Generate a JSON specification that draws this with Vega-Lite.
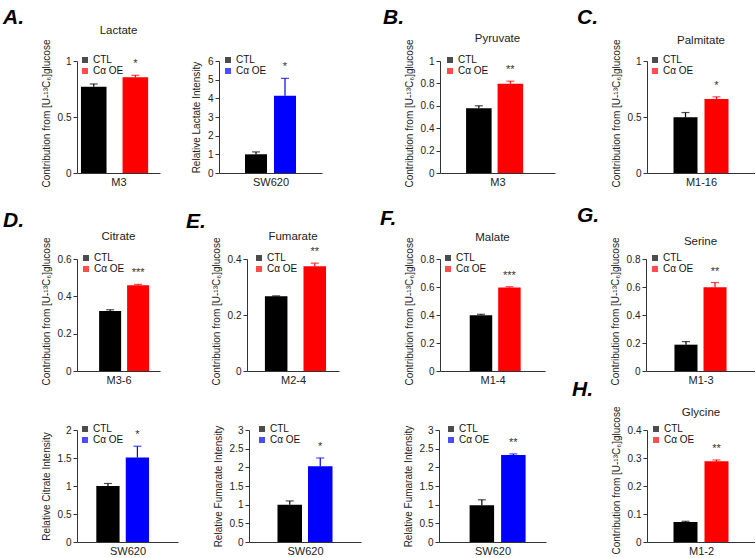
{
"$schema": "https://vega.github.io/schema/vega-lite/v6.json",
"padding": {"left": 3, "top": 6, "right": 0, "bottom": 0},
"background": "white",
"data": {"values": [
{"panel":"A1","cond":"CTL","value":0.77,"upper":0.795,"sig":""},
{"panel":"A1","cond":"Cα OE","value":0.855,"upper":0.872,"sig":"*"},
{"panel":"A2","cond":"CTL","value":1.0,"upper":1.13,"sig":""},
{"panel":"A2","cond":"Cα OE","value":4.14,"upper":5.07,"sig":"*"},
{"panel":"B","cond":"CTL","value":0.578,"upper":0.6,"sig":""},
{"panel":"B","cond":"Cα OE","value":0.797,"upper":0.82,"sig":"**"},
{"panel":"C","cond":"CTL","value":0.497,"upper":0.54,"sig":""},
{"panel":"C","cond":"Cα OE","value":0.66,"upper":0.68,"sig":"*"},
{"panel":"D","cond":"CTL","value":0.322,"upper":0.328,"sig":""},
{"panel":"D","cond":"Cα OE","value":0.46,"upper":0.464,"sig":"***"},
{"panel":"E","cond":"CTL","value":0.267,"upper":0.268,"sig":""},
{"panel":"E","cond":"Cα OE","value":0.374,"upper":0.385,"sig":"**"},
{"panel":"F","cond":"CTL","value":0.399,"upper":0.405,"sig":""},
{"panel":"F","cond":"Cα OE","value":0.596,"upper":0.602,"sig":"***"},
{"panel":"G","cond":"CTL","value":0.188,"upper":0.21,"sig":""},
{"panel":"G","cond":"Cα OE","value":0.598,"upper":0.632,"sig":"**"},
{"panel":"D2","cond":"CTL","value":1.0,"upper":1.045,"sig":""},
{"panel":"D2","cond":"Cα OE","value":1.51,"upper":1.71,"sig":"*"},
{"panel":"E2","cond":"CTL","value":1.0,"upper":1.1,"sig":""},
{"panel":"E2","cond":"Cα OE","value":2.03,"upper":2.25,"sig":"*"},
{"panel":"F2","cond":"CTL","value":0.985,"upper":1.13,"sig":""},
{"panel":"F2","cond":"Cα OE","value":2.33,"upper":2.36,"sig":"**"},
{"panel":"H","cond":"CTL","value":0.071,"upper":0.074,"sig":""},
{"panel":"H","cond":"Cα OE","value":0.288,"upper":0.293,"sig":"**"}
]},
"spacing": 17,
"resolve": {"scale": {"color": "independent"}, "legend": {"color": "independent"}},
"vconcat": [
{
"spacing": 61,
"resolve": {"scale": {"color": "independent"}, "legend": {"color": "independent"}},
"hconcat": [
{
"title": {"text":"A.","fontSize":21,"fontWeight":"bold","fontStyle":"italic","color":"#000","anchor":"start","frame":"group","dx":-74,"offset":-3},
"spacing": 31,
"resolve": {"scale": {"color": "independent"}, "legend": {"color": "independent"}},
"hconcat": [
{
"width": 83, "height": 112,
"title": {"text": "Lactate", "offset": 3},
"transform": [{"filter": "datum.panel === 'A1'"}],
"encoding": {
"x": {"field":"cond","type":"nominal","sort":["CTL","Cα OE"],"scale":{"paddingInner":0.385,"paddingOuter":0.19,"align":0.25},"axis":{"title":"M3"}},
"color": {"field":"cond","type":"nominal","scale":{"domain":["CTL","Cα OE"],"range":["#000000","#ff0000"]},"legend":{"title":null,"orient":"none","legendX":3,"legendY":-6}}
},
"layer": [
{"mark":{"type":"bar"},"encoding":{"y":{"field":"value","type":"quantitative","scale":{"domain":[0,1],"nice":false},"axis":{"values":[0,0.5,1],"format":"~g","titleY":52,"title":"Contribution from [U-¹³C₆]glucose"}}}},
{"mark":{"type":"rule","strokeWidth":1.2},"encoding":{"y":{"field":"value","type":"quantitative"},"y2":{"field":"upper"}}},
{"mark":{"type":"tick","thickness":1.2,"size":8},"encoding":{"y":{"field":"upper","type":"quantitative"}}},
{"mark":{"type":"text","baseline":"bottom","dy":-6,"fontSize":11},"encoding":{"y":{"field":"upper","type":"quantitative"},"text":{"field":"sig"},"color":{"value":"#333"}}}
]
},
{
"width": 103, "height": 112,
"transform": [{"filter": "datum.panel === 'A2'"}],
"encoding": {
"x": {"field":"cond","type":"nominal","sort":["CTL","Cα OE"],"scale":{"paddingInner":0.241,"paddingOuter":0.897},"axis":{"title":"SW620"}},
"color": {"field":"cond","type":"nominal","scale":{"domain":["CTL","Cα OE"],"range":["#000000","#0000ff"]},"legend":{"title":null,"orient":"none","legendX":4,"legendY":-6}}
},
"layer": [
{"mark":{"type":"bar"},"encoding":{"y":{"field":"value","type":"quantitative","scale":{"domain":[0,6],"nice":false},"axis":{"values":[0,1,2,3,4,5,6],"format":"~g","title":"Relative Lactate Intensity"}}}},
{"mark":{"type":"rule","strokeWidth":1.2},"encoding":{"y":{"field":"value","type":"quantitative"},"y2":{"field":"upper"}}},
{"mark":{"type":"tick","thickness":1.2,"size":8},"encoding":{"y":{"field":"upper","type":"quantitative"}}},
{"mark":{"type":"text","baseline":"bottom","dy":-6,"fontSize":11},"encoding":{"y":{"field":"upper","type":"quantitative"},"text":{"field":"sig"},"color":{"value":"#333"}}}
]
}
]
},
{
"spacing": 22,
"resolve": {"scale": {"color": "independent"}, "legend": {"color": "independent"}},
"hconcat": [
{
"title": {"text":"B.","fontSize":21,"fontWeight":"bold","fontStyle":"italic","color":"#000","anchor":"start","frame":"group","dx":-57,"offset":5},
"vconcat": [
{
"width": 115, "height": 112,
"title": {"text": "Pyruvate", "offset": -5},
"transform": [{"filter": "datum.panel === 'B'"}],
"encoding": {
"x": {"field":"cond","type":"nominal","sort":["CTL","Cα OE"],"scale":{"paddingInner":0.19,"paddingOuter":0.92,"align":0.45},"axis":{"title":"M3"}},
"color": {"field":"cond","type":"nominal","scale":{"domain":["CTL","Cα OE"],"range":["#000000","#ff0000"]},"legend":{"title":null,"orient":"none","legendX":5,"legendY":-6}}
},
"layer": [
{"mark":{"type":"bar"},"encoding":{"y":{"field":"value","type":"quantitative","scale":{"domain":[0,1],"nice":false},"axis":{"values":[0,0.2,0.4,0.6,0.8,1],"format":"~g","titleY":52,"title":"Contribution from [U-¹³C₆]glucose"}}}},
{"mark":{"type":"rule","strokeWidth":1.2},"encoding":{"y":{"field":"value","type":"quantitative"},"y2":{"field":"upper"}}},
{"mark":{"type":"tick","thickness":1.2,"size":8},"encoding":{"y":{"field":"upper","type":"quantitative"}}},
{"mark":{"type":"text","baseline":"bottom","dy":-6,"fontSize":11},"encoding":{"y":{"field":"upper","type":"quantitative"},"text":{"field":"sig"},"color":{"value":"#333"}}}
]
}
]
},
{
"title": {"text":"C.","fontSize":21,"fontWeight":"bold","fontStyle":"italic","color":"#000","anchor":"start","frame":"group","dx":-70,"offset":7},
"vconcat": [
{
"width": 108, "height": 112,
"title": {"text": "Palmitate", "offset": -7},
"transform": [{"filter": "datum.panel === 'C'"}],
"encoding": {
"x": {"field":"cond","type":"nominal","sort":["CTL","Cα OE"],"scale":{"paddingInner":0.226,"paddingOuter":0.855},"axis":{"title":"M1-16"}},
"color": {"field":"cond","type":"nominal","scale":{"domain":["CTL","Cα OE"],"range":["#000000","#ff0000"]},"legend":{"title":null,"orient":"none","legendX":3,"legendY":-6}}
},
"layer": [
{"mark":{"type":"bar"},"encoding":{"y":{"field":"value","type":"quantitative","scale":{"domain":[0,1],"nice":false},"axis":{"values":[0,0.5,1],"format":"~g","titleY":52,"title":"Contribution from [U-¹³C₆]glucose"}}}},
{"mark":{"type":"rule","strokeWidth":1.2},"encoding":{"y":{"field":"value","type":"quantitative"},"y2":{"field":"upper"}}},
{"mark":{"type":"tick","thickness":1.2,"size":8},"encoding":{"y":{"field":"upper","type":"quantitative"}}},
{"mark":{"type":"text","baseline":"bottom","dy":-6,"fontSize":11},"encoding":{"y":{"field":"upper","type":"quantitative"},"text":{"field":"sig"},"color":{"value":"#333"}}}
]
}
]
}
]
}
]
},
{
"spacing": -6,
"resolve": {"scale": {"color": "independent"}, "legend": {"color": "independent"}},
"vconcat": [
{
"spacing": 26,
"resolve": {"scale": {"color": "independent"}, "legend": {"color": "independent"}},
"hconcat": [
{
"title": {"text":"D.","fontSize":21,"fontWeight":"bold","fontStyle":"italic","color":"#000","anchor":"start","frame":"group","dx":-74,"offset":0},
"vconcat": [
{
"width": 83, "height": 112,
"title": {"text": "Citrate", "offset": -5},
"transform": [{"filter": "datum.panel === 'D'"}],
"encoding": {
"x": {"field":"cond","type":"nominal","sort":["CTL","Cα OE"],"scale":{"paddingInner":0.214,"paddingOuter":0.59,"align":0.67},"axis":{"title":"M3-6"}},
"color": {"field":"cond","type":"nominal","scale":{"domain":["CTL","Cα OE"],"range":["#000000","#ff0000"]},"legend":{"title":null,"orient":"none","legendX":4,"legendY":-6}}
},
"layer": [
{"mark":{"type":"bar"},"encoding":{"y":{"field":"value","type":"quantitative","scale":{"domain":[0,0.6],"nice":false},"axis":{"values":[0,0.2,0.4,0.6],"format":"~g","titleY":52,"title":"Contribution from [U-¹³C₆]glucose"}}}},
{"mark":{"type":"rule","strokeWidth":1.2},"encoding":{"y":{"field":"value","type":"quantitative"},"y2":{"field":"upper"}}},
{"mark":{"type":"tick","thickness":1.2,"size":8},"encoding":{"y":{"field":"upper","type":"quantitative"}}},
{"mark":{"type":"text","baseline":"bottom","dy":-6,"fontSize":11},"encoding":{"y":{"field":"upper","type":"quantitative"},"text":{"field":"sig"},"color":{"value":"#333"}}}
]
}
]
},
{
"spacing": 41,
"resolve": {"scale": {"color": "independent"}, "legend": {"color": "independent"}},
"hconcat": [
{
"title": {"text":"E.","fontSize":21,"fontWeight":"bold","fontStyle":"italic","color":"#000","anchor":"start","frame":"group","dx":-61,"offset":-1},
"vconcat": [
{
"width": 92, "height": 112,
"title": {"text": "Fumarate", "offset": -5},
"transform": [{"filter": "datum.panel === 'E'"}],
"encoding": {
"x": {"field":"cond","type":"nominal","sort":["CTL","Cα OE"],"scale":{"paddingInner":0.416,"paddingOuter":0.4,"align":0.58},"axis":{"title":"M2-4"}},
"color": {"field":"cond","type":"nominal","scale":{"domain":["CTL","Cα OE"],"range":["#000000","#ff0000"]},"legend":{"title":null,"orient":"none","legendX":7,"legendY":-6}}
},
"layer": [
{"mark":{"type":"bar"},"encoding":{"y":{"field":"value","type":"quantitative","scale":{"domain":[0,0.4],"nice":false},"axis":{"values":[0,0.2,0.4],"format":"~g","titleY":52,"title":"Contribution from [U-¹³C₆]glucose"}}}},
{"mark":{"type":"rule","strokeWidth":1.2},"encoding":{"y":{"field":"value","type":"quantitative"},"y2":{"field":"upper"}}},
{"mark":{"type":"tick","thickness":1.2,"size":8},"encoding":{"y":{"field":"upper","type":"quantitative"}}},
{"mark":{"type":"text","baseline":"bottom","dy":-6,"fontSize":11},"encoding":{"y":{"field":"upper","type":"quantitative"},"text":{"field":"sig"},"color":{"value":"#333"}}}
]
}
]
},
{
"spacing": 32,
"resolve": {"scale": {"color": "independent"}, "legend": {"color": "independent"}},
"hconcat": [
{
"title": {"text":"F.","fontSize":21,"fontWeight":"bold","fontStyle":"italic","color":"#000","anchor":"start","frame":"group","dx":-60,"offset":3},
"vconcat": [
{
"width": 105, "height": 112,
"title": {"text": "Malate", "offset": -6},
"transform": [{"filter": "datum.panel === 'F'"}],
"encoding": {
"x": {"field":"cond","type":"nominal","sort":["CTL","Cα OE"],"scale":{"paddingInner":0.21,"paddingOuter":0.95,"align":0.55},"axis":{"title":"M1-4"}},
"color": {"field":"cond","type":"nominal","scale":{"domain":["CTL","Cα OE"],"range":["#000000","#ff0000"]},"legend":{"title":null,"orient":"none","legendX":3,"legendY":-6}}
},
"layer": [
{"mark":{"type":"bar"},"encoding":{"y":{"field":"value","type":"quantitative","scale":{"domain":[0,0.8],"nice":false},"axis":{"values":[0,0.2,0.4,0.6,0.8],"format":"~g","titleY":52,"title":"Contribution from [U-¹³C₆]glucose"}}}},
{"mark":{"type":"rule","strokeWidth":1.2},"encoding":{"y":{"field":"value","type":"quantitative"},"y2":{"field":"upper"}}},
{"mark":{"type":"tick","thickness":1.2,"size":8},"encoding":{"y":{"field":"upper","type":"quantitative"}}},
{"mark":{"type":"text","baseline":"bottom","dy":-6,"fontSize":11},"encoding":{"y":{"field":"upper","type":"quantitative"},"text":{"field":"sig"},"color":{"value":"#333"}}}
]
}
]
},
{
"title": {"text":"G.","fontSize":21,"fontWeight":"bold","fontStyle":"italic","color":"#000","anchor":"start","frame":"group","dx":-69,"offset":10},
"vconcat": [
{
"width": 109, "height": 112,
"title": {"text": "Serine", "offset": -10},
"transform": [{"filter": "datum.panel === 'G'"}],
"encoding": {
"x": {"field":"cond","type":"nominal","sort":["CTL","Cα OE"],"scale":{"paddingInner":0.207,"paddingOuter":0.98},"axis":{"title":"M1-3"}},
"color": {"field":"cond","type":"nominal","scale":{"domain":["CTL","Cα OE"],"range":["#000000","#ff0000"]},"legend":{"title":null,"orient":"none","legendX":4,"legendY":-6}}
},
"layer": [
{"mark":{"type":"bar"},"encoding":{"y":{"field":"value","type":"quantitative","scale":{"domain":[0,0.8],"nice":false},"axis":{"values":[0,0.2,0.4,0.6,0.8],"format":"~g","titleY":52,"title":"Contribution from [U-¹³C₆]glucose"}}}},
{"mark":{"type":"rule","strokeWidth":1.2},"encoding":{"y":{"field":"value","type":"quantitative"},"y2":{"field":"upper"}}},
{"mark":{"type":"tick","thickness":1.2,"size":8},"encoding":{"y":{"field":"upper","type":"quantitative"}}},
{"mark":{"type":"text","baseline":"bottom","dy":-6,"fontSize":11},"encoding":{"y":{"field":"upper","type":"quantitative"},"text":{"field":"sig"},"color":{"value":"#333"}}}
]
}
]
}
]
}
]
}
]
},
{
"spacing": 35,
"resolve": {"scale": {"color": "independent"}, "legend": {"color": "independent"}},
"hconcat": [
{
"width": 101, "height": 112,
"transform": [{"filter": "datum.panel === 'D2'"}],
"encoding": {
"x": {"field":"cond","type":"nominal","sort":["CTL","Cα OE"],"scale":{"paddingInner":0.21,"paddingOuter":0.82,"align":0.4},"axis":{"title":"SW620"}},
"color": {"field":"cond","type":"nominal","scale":{"domain":["CTL","Cα OE"],"range":["#000000","#0000ff"]},"legend":{"title":null,"orient":"none","legendX":3,"legendY":-6}}
},
"layer": [
{"mark":{"type":"bar"},"encoding":{"y":{"field":"value","type":"quantitative","scale":{"domain":[0,2],"nice":false},"axis":{"values":[0,0.5,1,1.5,2],"format":"~g","title":"Relative Citrate Intensity"}}}},
{"mark":{"type":"rule","strokeWidth":1.2},"encoding":{"y":{"field":"value","type":"quantitative"},"y2":{"field":"upper"}}},
{"mark":{"type":"tick","thickness":1.2,"size":8},"encoding":{"y":{"field":"upper","type":"quantitative"}}},
{"mark":{"type":"text","baseline":"bottom","dy":-6,"fontSize":11},"encoding":{"y":{"field":"upper","type":"quantitative"},"text":{"field":"sig"},"color":{"value":"#333"}}}
]
},
{
"spacing": 42,
"resolve": {"scale": {"color": "independent"}, "legend": {"color": "independent"}},
"hconcat": [
{
"width": 112, "height": 112,
"transform": [{"filter": "datum.panel === 'E2'"}],
"encoding": {
"x": {"field":"cond","type":"nominal","sort":["CTL","Cα OE"],"scale":{"paddingInner":0.197,"paddingOuter":0.934},"axis":{"title":"SW620"}},
"color": {"field":"cond","type":"nominal","scale":{"domain":["CTL","Cα OE"],"range":["#000000","#0000ff"]},"legend":{"title":null,"orient":"none","legendX":8,"legendY":-6}}
},
"layer": [
{"mark":{"type":"bar"},"encoding":{"y":{"field":"value","type":"quantitative","scale":{"domain":[0,3],"nice":false},"axis":{"values":[0,0.5,1,1.5,2,2.5,3],"format":"~g","title":"Relative Fumarate Intensity"}}}},
{"mark":{"type":"rule","strokeWidth":1.2},"encoding":{"y":{"field":"value","type":"quantitative"},"y2":{"field":"upper"}}},
{"mark":{"type":"tick","thickness":1.2,"size":8},"encoding":{"y":{"field":"upper","type":"quantitative"}}},
{"mark":{"type":"text","baseline":"bottom","dy":-6,"fontSize":11},"encoding":{"y":{"field":"upper","type":"quantitative"},"text":{"field":"sig"},"color":{"value":"#333"}}}
]
},
{
"spacing": 26,
"resolve": {"scale": {"color": "independent"}, "legend": {"color": "independent"}},
"hconcat": [
{
"width": 107, "height": 112,
"transform": [{"filter": "datum.panel === 'F2'"}],
"encoding": {
"x": {"field":"cond","type":"nominal","sort":["CTL","Cα OE"],"scale":{"paddingInner":0.222,"paddingOuter":0.81,"align":0.6},"axis":{"title":"SW620"}},
"color": {"field":"cond","type":"nominal","scale":{"domain":["CTL","Cα OE"],"range":["#000000","#0000ff"]},"legend":{"title":null,"orient":"none","legendX":7,"legendY":-6}}
},
"layer": [
{"mark":{"type":"bar"},"encoding":{"y":{"field":"value","type":"quantitative","scale":{"domain":[0,3],"nice":false},"axis":{"values":[0,0.5,1,1.5,2,2.5,3],"format":"~g","title":"Relative Fumarate Intensity"}}}},
{"mark":{"type":"rule","strokeWidth":1.2},"encoding":{"y":{"field":"value","type":"quantitative"},"y2":{"field":"upper"}}},
{"mark":{"type":"tick","thickness":1.2,"size":8},"encoding":{"y":{"field":"upper","type":"quantitative"}}},
{"mark":{"type":"text","baseline":"bottom","dy":-6,"fontSize":11},"encoding":{"y":{"field":"upper","type":"quantitative"},"text":{"field":"sig"},"color":{"value":"#333"}}}
]
},
{
"title": {"text":"H.","fontSize":21,"fontWeight":"bold","fontStyle":"italic","color":"#000","anchor":"start","frame":"group","dx":-75,"offset":6},
"vconcat": [
{
"width": 108, "height": 112,
"title": {"text": "Glycine", "offset": -12},
"transform": [{"filter": "datum.panel === 'H'"}],
"encoding": {
"x": {"field":"cond","type":"nominal","sort":["CTL","Cα OE"],"scale":{"paddingInner":0.226,"paddingOuter":0.855},"axis":{"title":"M1-2"}},
"color": {"field":"cond","type":"nominal","scale":{"domain":["CTL","Cα OE"],"range":["#000000","#ff0000"]},"legend":{"title":null,"orient":"none","legendX":4,"legendY":-6}}
},
"layer": [
{"mark":{"type":"bar"},"encoding":{"y":{"field":"value","type":"quantitative","scale":{"domain":[0,0.4],"nice":false},"axis":{"values":[0,0.1,0.2,0.3,0.4],"format":"~g","titleY":50,"title":"Contribution from [U-¹³C₆]glucose"}}}},
{"mark":{"type":"rule","strokeWidth":1.2},"encoding":{"y":{"field":"value","type":"quantitative"},"y2":{"field":"upper"}}},
{"mark":{"type":"tick","thickness":1.2,"size":8},"encoding":{"y":{"field":"upper","type":"quantitative"}}},
{"mark":{"type":"text","baseline":"bottom","dy":-6,"fontSize":11},"encoding":{"y":{"field":"upper","type":"quantitative"},"text":{"field":"sig"},"color":{"value":"#333"}}}
]
}
]
}
]
}
]
}
]
}
]
}
],
"config": {
"font": "Liberation Sans",
"view": {"stroke": null},
"axis": {"domainColor":"#333","tickColor":"#333","labelColor":"#222","titleColor":"#222","labelFontSize":10,"titleFontSize":10,"titleFontWeight":"normal","grid":false,"labelFont":"Liberation Sans","titleFont":"Liberation Sans","labelOverlap":false,"labelFlush":false},
"axisY": {"tickSize":4,"labelPadding":2,"titlePadding":6,"tickCount":50},
"axisX": {"ticks":false,"labels":false,"titleFontSize":11,"titlePadding":3},
"legend": {"symbolType":"square","symbolSize":36,"labelFontSize":10,"rowPadding":1,"labelOffset":3,"padding":0,"labelColor":"#111","symbolStrokeWidth":0,"labelFont":"Liberation Sans"},
"title": {"fontSize":11.5,"fontWeight":"normal","color":"#222","frame":"group","font":"Liberation Sans"}
}
}
